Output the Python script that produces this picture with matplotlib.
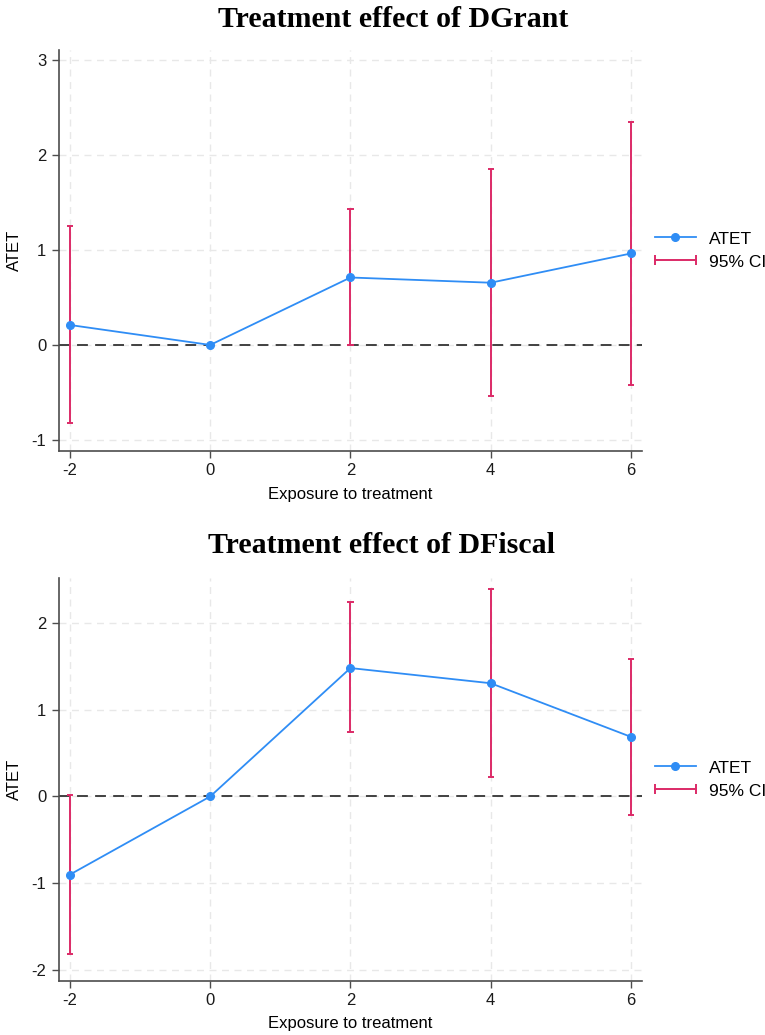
import numpy as np
import matplotlib.pyplot as plt
from matplotlib.lines import Line2D
from matplotlib.legend_handler import HandlerLine2D

# === DATA ===
exposure = [-2, 0, 2, 4, 6]

grant_atet  = [0.21, 0.0, 0.71, 0.655, 0.963]
grant_lower = [-0.82, 0.0, 0.0, -0.535, -0.42]
grant_upper = [1.25, 0.0, 1.43, 1.85, 2.345]

fiscal_atet  = [-0.90, 0.0, 1.48, 1.305, 0.687]
fiscal_lower = [-1.81, 0.0, 0.74, 0.22, -0.21]
fiscal_upper = [0.02, 0.0, 2.24, 2.39, 1.585]

titles = ["Treatment effect of DGrant", "Treatment effect of DFiscal"]
yticks_grant  = [-1, 0, 1, 2, 3]
yticks_fiscal = [-2, -1, 0, 1, 2]

# === STYLE ===
blue = '#2F8DF5'
red = '#DC2A67'
grid_col = '#E8E8E8'
spine_col = '#4D4D4D'
plt.rcParams['font.family'] = ['Liberation Sans', 'DejaVu Sans']
plt.rcParams['axes.unicode_minus'] = False

fig = plt.figure(figsize=(7.65, 10.35), dpi=100)
ax1 = fig.add_axes([0.0767, 0.5643, 0.7621, 0.3874])
ax2 = fig.add_axes([0.0767, 0.0525, 0.7621, 0.3888])


def draw_panel(ax, atet, lower, upper, yticks, ylim):
    atet = np.array(atet)
    lower = np.array(lower)
    upper = np.array(upper)
    x = np.array(exposure)
    ax.axhline(0, color='#333333', lw=1.3, ls=(0, (6, 4)), zorder=2)
    has_ci = upper - lower > 0
    cap = 0.045
    ax.vlines(x[has_ci], lower[has_ci], upper[has_ci], color=red, lw=1.4, zorder=3)
    ax.hlines(lower[has_ci], x[has_ci] - cap, x[has_ci] + cap, color=red, lw=1.4, zorder=3)
    ax.hlines(upper[has_ci], x[has_ci] - cap, x[has_ci] + cap, color=red, lw=1.4, zorder=3)
    ax.plot(x, atet, color=blue, lw=1.3, marker='o', ms=5.5, zorder=4)

    ax.set_xlim(-2.161, 6.153)
    ax.set_ylim(*ylim)
    ax.set_xticks(exposure)
    ax.set_yticks(yticks)
    ax.grid(True, color=grid_col, ls=(0, (5, 4)), lw=1.0, zorder=0)
    ax.set_axisbelow(True)
    for s in ['top', 'right']:
        ax.spines[s].set_visible(False)
    for s in ['left', 'bottom']:
        ax.spines[s].set_color(spine_col)
        ax.spines[s].set_linewidth(1.2)
    ax.tick_params(direction='out', length=5, width=1.0, color=spine_col,
                   labelsize=12, labelcolor='#1a1a1a', pad=4)
    ax.set_xlabel("Exposure to treatment", fontsize=12, labelpad=6)
    ax.set_ylabel("ATET", fontsize=12)
    ax.yaxis.set_label_coords(-0.063, 0.5)

    h_atet = Line2D([0], [0], color=blue, lw=1.3, marker='o', ms=5.5)
    h_ci = Line2D([0], [0], color=red, lw=1.4, marker='|', ms=7, mew=1.4)
    ax.legend([h_atet, h_ci], ["ATET", "95% CI"],
              handler_map={h_ci: HandlerLine2D(numpoints=2, marker_pad=0)},
              loc='center left', bbox_to_anchor=(1.023, 0.5),
              borderaxespad=0, borderpad=0,
              frameon=False, fontsize=12.5, handlelength=2.35,
              handletextpad=0.75, labelspacing=0.45, numpoints=1)


draw_panel(ax1, grant_atet, grant_lower, grant_upper, yticks_grant, (-1.116, 3.105))
draw_panel(ax2, fiscal_atet, fiscal_lower, fiscal_upper, yticks_fiscal, (-2.123, 2.515))

fig.text(0.514, 0.981, titles[0], ha='center', va='center',
         fontsize=21.5, fontweight='bold', family='Liberation Serif')
fig.text(0.499, 0.4734, titles[1], ha='center', va='center',
         fontsize=21.5, fontweight='bold', family='Liberation Serif')

fig.savefig("out.png", dpi=100)
